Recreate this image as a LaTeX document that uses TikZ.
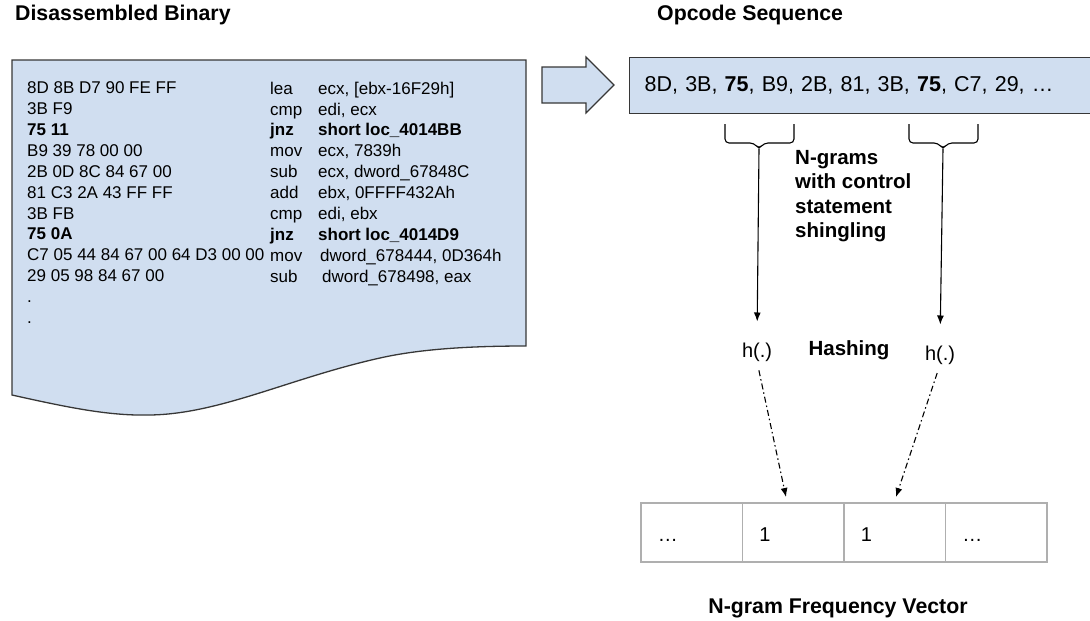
\documentclass[tikz,border=0pt]{standalone}
\usepackage{fontspec}
\setmainfont{Liberation Sans}
\usetikzlibrary{arrows.meta,positioning,calc}

\definecolor{paleblue}{RGB}{208,222,240}
\definecolor{darkedge}{RGB}{55,55,55}
\definecolor{cellgray}{RGB}{175,175,175}

\begin{document}
\begin{tikzpicture}[x=1pt,y=-1pt,
  ttl/.style={inner sep=0pt,font=\fontsize{21.3}{25}\selectfont\bfseries},
  code/.style={anchor=north west,inner sep=0pt,align=left,font=\fontsize{17}{20.9}\selectfont},
  lbl/.style={inner sep=0pt,font=\fontsize{20}{24}\selectfont},
  cell/.style={draw=cellgray,line width=1.2pt,minimum width=101.5pt,minimum height=59pt,
    inner sep=0pt,outer sep=0pt,text width=68pt,text height=18pt,text depth=1pt,
    align=left,font=\fontsize{20}{24}\selectfont},
  tip/.style={-{Latex[length=9pt,width=7pt]},line width=1.1pt},
  hashline/.style={tip,dash pattern=on 6pt off 3pt on 1.5pt off 3pt}]
\useasboundingbox (0,0) rectangle (1090,621);

% titles
\node[ttl,anchor=west] (tbin) at (15,15) {Disassembled Binary};
\node[ttl,anchor=west] (tseq) at (657,15) {Opcode Sequence};
\node[ttl] (tvec) at (838,608) {N-gram Frequency Vector};

% the listing
\draw[darkedge,fill=paleblue,line width=1.3pt] (12,60) -- (526,60) -- (526,346)
  .. controls (470,346) and (420,349) .. (380,358)
  .. controls (290,378) and (220,414) .. (150,415)
  .. controls (110,416) and (70,408) .. (12,395) -- cycle;
\node[code] (hexcol) at (27,81.6) {8D 8B D7 90 FE FF\\3B F9\\\textbf{75 11}\\B9 39 78 00 00\\
  2B 0D 8C 84 67 00\\81 C3 2A 43 FF FF\\3B FB\\\textbf{75 0A}\\C7 05 44 84 67 00 64 D3 00 00\\
  29 05 98 84 67 00\\.\\.};
\node[code] (mnecol) at (270,81.6) {lea\\cmp\\\textbf{jnz}\\mov\\sub\\add\\cmp\\\textbf{jnz}\\mov\\sub};
\node[code] (argcol) at (318,81.6) {ecx, [ebx-16F29h]\\edi, ecx\\\textbf{short loc\_4014BB}\\ecx, 7839h\\
  ecx, dword\_67848C\\ebx, 0FFFF432Ah\\edi, ebx\\\textbf{short loc\_4014D9}\\
  \hspace{2pt}dword\_678444, 0D364h\\\hspace{4pt}dword\_678498, eax};

% block arrow
\draw[darkedge,fill=paleblue,line width=1.1pt] (542,67) -- (586,67) -- (586,57) -- (614,85)
  -- (586,113) -- (586,103) -- (542,103) -- cycle;

% opcode sequence
\node[draw=darkedge,fill=paleblue,line width=1.3pt,anchor=north west,minimum width=470pt,
  minimum height=56pt,text width=440pt,align=left,inner xsep=15pt,
  font=\fontsize{21.5}{25}\selectfont] (opseq) at (629,57)
  {8D, 3B, \textbf{75}, B9, 2B, 81, 3B, \textbf{75}, C7, 29, …};

% n-gram braces
\coordinate (g1) at (759,149);
\coordinate (g2) at (943,149);
\draw[line width=1.1pt,rounded corners=4pt] (725,124) -- (725,143) -- (754,143) -- (g1)
  -- (764,143) -- (794,143) -- (794,124);
\draw[line width=1.1pt,rounded corners=4pt] (909,124) -- (909,143) -- (938,143) -- (g2)
  -- (948,143) -- (978,143) -- (978,124);
\node[ttl,anchor=north west,align=left,font=\fontsize{20.5}{24.5}\selectfont\bfseries] (ngr) at (795,150)
  {N-grams\\with control\\statement\\shingling};

% hashing
\node[lbl] (h1) at (757,352) {h(.)};
\node[lbl] (h2) at (940,355) {h(.)};
\node[ttl,font=\fontsize{20.5}{24}\selectfont\bfseries] (hsh) at (849,350) {Hashing};
\draw[tip] (g1) -- (h1.north) [shorten >=21pt];
\draw[tip] (g2) -- (h2.north) [shorten >=21pt];

% frequency vector
\node[cell,anchor=north west] (c1) at (641,503) {…};
\node[cell,right=0pt of c1] (c2) {1};
\node[cell,right=0pt of c2] (c3) {1};
\node[cell,right=0pt of c3] (c4) {…};
\coordinate (t1) at (786,497);
\coordinate (t2) at (896,497);
\draw[hashline,shorten <=9pt] (h1.south) -- (t1);
\draw[hashline,shorten <=9pt] (h2.south) -- (t2);
\end{tikzpicture}
\end{document}
